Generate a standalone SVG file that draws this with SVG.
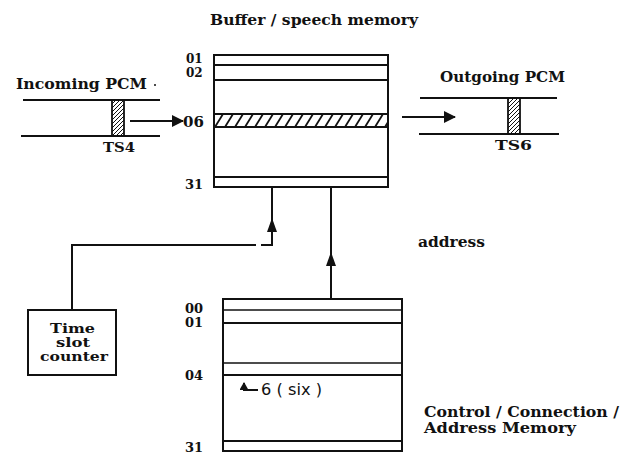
<svg xmlns="http://www.w3.org/2000/svg" width="636" height="457" viewBox="0 0 636 457">
<style>
.t{font-family:"DejaVu Serif","Liberation Serif",serif;font-weight:bold;fill:#111;}
.lbl{font-size:14px;}
.num{font-size:13px;}
.sm{font-family:"DejaVu Sans","Liberation Sans",sans-serif;font-size:15px;fill:#111;}
.ln{stroke:#111;stroke-width:2;fill:none;}
.thin{stroke:#111;stroke-width:1.6;fill:none;}
</style>
<defs>
<pattern id="hatchBig" patternUnits="userSpaceOnUse" x="214" y="114" width="10" height="13">
<line x1="1" y1="13" x2="9" y2="0" stroke="#111" stroke-width="1.8"/>
</pattern>
<pattern id="hatchSmall" patternUnits="userSpaceOnUse" width="4" height="4">
<line x1="-1" y1="5" x2="5" y2="-1" stroke="#111" stroke-width="1"/>
</pattern>
<marker id="ah" viewBox="0 0 12 12" refX="11" refY="6" markerWidth="12" markerHeight="12" markerUnits="userSpaceOnUse" orient="auto">
<path d="M0,0 L12,6 L0,12 Z" fill="#111"/>
</marker>
<marker id="av" viewBox="0 0 14 10" refX="13" refY="5" markerWidth="14" markerHeight="10" markerUnits="userSpaceOnUse" orient="auto">
<path d="M0,0 L14,5 L0,10 Z" fill="#111"/>
</marker>
<marker id="as" viewBox="0 0 8 9" refX="7" refY="4.5" markerWidth="8" markerHeight="9" markerUnits="userSpaceOnUse" orient="auto">
<path d="M0,0 L8,4.5 L0,9 Z" fill="#111"/>
</marker>
</defs>
<rect width="636" height="457" fill="#fff"/>

<text class="t lbl" x="210" y="25" textLength="208" lengthAdjust="spacingAndGlyphs">Buffer / speech memory</text>

<g id="buffer-memory">
<rect x="214" y="55" width="174" height="132" class="ln"/>
<line x1="214" y1="65" x2="388" y2="65" class="ln"/>
<line x1="214" y1="80" x2="388" y2="80" class="ln"/>
<rect x="214" y="114" width="174" height="13" fill="url(#hatchBig)" stroke="#111" stroke-width="2"/>
<line x1="214" y1="177" x2="388" y2="177" class="ln"/>
<text class="t" font-size="12" x="186" y="63">01</text>
<text class="t" font-size="12" x="186" y="77">02</text>
<text class="t" font-size="15" x="183" y="127">06</text>
<text class="t num" x="185" y="189">31</text>
</g>

<g id="incoming-pcm">
<text class="t lbl" x="16" y="89" textLength="131" lengthAdjust="spacingAndGlyphs">Incoming PCM</text>
<circle cx="155" cy="85" r="1" fill="#111"/>
<line x1="23" y1="100" x2="160" y2="100" class="ln"/>
<line x1="21" y1="136" x2="160" y2="136" class="ln"/>
<rect x="112" y="100" width="12" height="36" fill="url(#hatchSmall)" stroke="#111" stroke-width="1.8"/>
<text class="t num" x="103" y="152" textLength="32" lengthAdjust="spacingAndGlyphs">TS4</text>
</g>

<g id="outgoing-pcm">
<text class="t lbl" x="440" y="82" textLength="125" lengthAdjust="spacingAndGlyphs">Outgoing PCM</text>
<line x1="420" y1="98" x2="557" y2="98" class="ln"/>
<line x1="419" y1="134" x2="559" y2="134" class="ln"/>
<rect x="508" y="98" width="12" height="36" fill="url(#hatchSmall)" stroke="#111" stroke-width="1.8"/>
<text class="t num" x="495" y="150" textLength="37" lengthAdjust="spacingAndGlyphs">TS6</text>
</g>

<g id="time-slot-counter">
<rect x="28" y="310" width="88" height="65" class="ln"/>
<text class="t" font-size="12.5" x="50" y="333" textLength="45" lengthAdjust="spacingAndGlyphs">Time</text>
<text class="t" font-size="12.5" x="56" y="347" textLength="34" lengthAdjust="spacingAndGlyphs">slot</text>
<text class="t" font-size="12.5" x="40" y="361" textLength="68" lengthAdjust="spacingAndGlyphs">counter</text>
</g>

<g id="control-memory">
<rect x="223" y="299" width="179" height="152" class="ln"/>
<line x1="223" y1="310" x2="402" y2="310" class="thin"/>
<line x1="223" y1="323" x2="402" y2="323" class="ln"/>
<line x1="223" y1="363" x2="402" y2="363" class="thin"/>
<line x1="223" y1="375" x2="402" y2="375" class="ln"/>
<line x1="223" y1="441" x2="402" y2="441" class="ln"/>
<text class="t num" x="185" y="313">00</text>
<text class="t num" x="185" y="327">01</text>
<text class="t num" x="185" y="380">04</text>
<text class="t num" x="185" y="452">31</text>
<path d="M258,390 L244,390 L244,383" class="ln" marker-end="url(#as)"/>
<text class="sm" x="261" y="395" textLength="61" lengthAdjust="spacingAndGlyphs">6 ( six )</text>
<text class="t lbl" x="424" y="417" textLength="195" lengthAdjust="spacingAndGlyphs">Control / Connection /</text>
<text class="t lbl" x="424" y="433" textLength="152" lengthAdjust="spacingAndGlyphs">Address Memory</text>
</g>

<g id="connectors">
<line x1="130" y1="121" x2="183" y2="121" class="ln" marker-end="url(#ah)"/>
<line x1="402" y1="117" x2="455" y2="117" class="ln" marker-end="url(#ah)"/>
<path d="M72,310 L72,245 L256,245 M261,245 L272,245 L272,219" class="ln" marker-end="url(#av)"/>
<line x1="272" y1="219" x2="272" y2="187" class="ln"/>
<line x1="331" y1="299" x2="331" y2="253" class="ln" marker-end="url(#av)"/>
<line x1="331" y1="253" x2="331" y2="187" class="ln"/>
<text class="t lbl" x="418" y="247" textLength="67" lengthAdjust="spacingAndGlyphs">address</text>
</g>
</svg>
